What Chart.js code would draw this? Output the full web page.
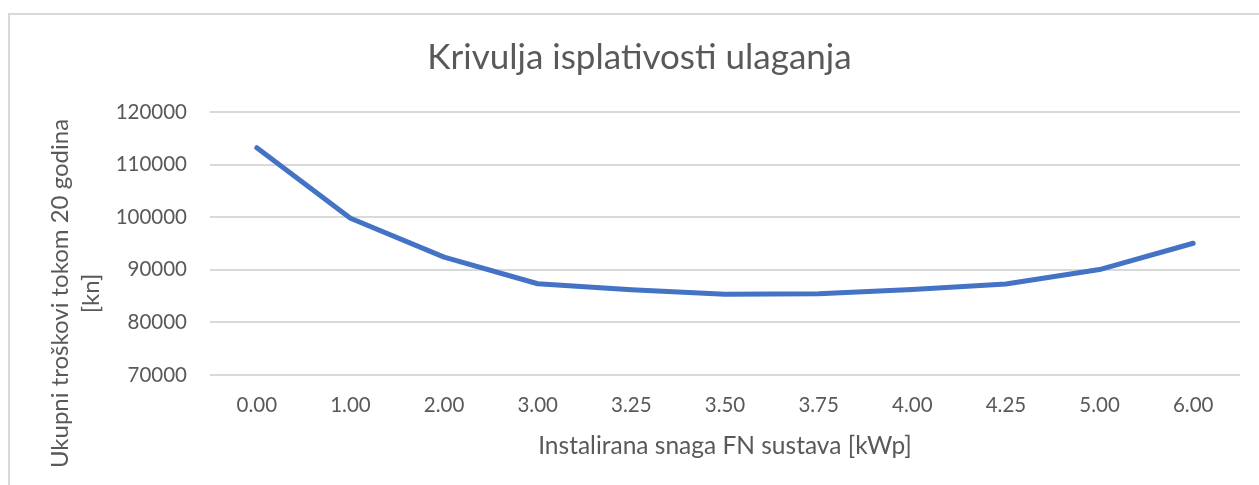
<!DOCTYPE html>
<html>
<head>
<meta charset="utf-8">
<script src="https://cdn.jsdelivr.net/npm/chart.js@4/dist/chart.umd.min.js"></script>
<style>
    html, body { margin: 0; padding: 0; background: #fff; }
    #wrap { width: 1259px; height: 485px; position: relative; }
</style>
</head>
<body>
<div id="wrap"><canvas id="isplativostChart" width="1259" height="485"></canvas></div>
<script>
const snaga = ['0.00', '1.00', '2.00', '3.00', '3.25', '3.50', '3.75', '4.00', '4.25', '5.00', '6.00'];
const troskovi = [113200, 99800, 92400, 87350, 86200, 85350, 85450, 86250, 87300, 90050, 95050];
const yMin = 70000;
const yMax = 120000;
const yStep = 10000;

const naslov = 'Krivulja isplativosti ulaganja';
const naslovX = 'Instalirana snaga FN sustava [kWp]';
const naslovY = ['Ukupni troškovi tokom 20 godina', '[kn]'];

const sivaTekst = '#595959';
const sivaMreza = '#d9d9d9';
const font = 'Lato';

// okvir grafikona (lijevo i gore, ostatak je odrezan)
const okvir = {
    id: 'okvir',
    beforeDraw(chart) {
        const ctx = chart.ctx;
        ctx.save();
        ctx.fillStyle = sivaMreza;
        ctx.fillRect(8, 13, 2, chart.height);
        ctx.fillRect(8, 13, chart.width, 2);
        ctx.restore();
    }
};

// naslov grafikona - Excel ga centrira na cijeli okvir, ne na podrucje crteza
const glavniNaslov = {
    id: 'glavniNaslov',
    afterDraw(chart) {
        const ctx = chart.ctx;
        ctx.save();
        ctx.fillStyle = sivaTekst;
        ctx.font = '35px ' + font;
        ctx.textAlign = 'center';
        ctx.textBaseline = 'alphabetic';
        ctx.fillText(naslov, (8 + chart.width + 12) / 2, 69);
        ctx.restore();
    }
};

// naslov y osi u dva retka
const yNaslov = {
    id: 'yNaslov',
    afterDraw(chart) {
        const ctx = chart.ctx;
        const area = chart.chartArea;
        const cy = (area.top + area.bottom) / 2 + 50;
        ctx.save();
        ctx.fillStyle = sivaTekst;
        ctx.font = '24px ' + font;
        ctx.textAlign = 'center';
        ctx.textBaseline = 'alphabetic';
        naslovY.forEach((txt, i) => {
            ctx.save();
            ctx.translate(68 + i * 31, cy);
            ctx.rotate(-Math.PI / 2);
            ctx.fillText(txt, 0, 0);
            ctx.restore();
        });
        ctx.restore();
    }
};

const ctx = document.getElementById('isplativostChart').getContext('2d');

new Chart(ctx, {
    type: 'line',
    data: {
        labels: snaga,
        datasets: [{
            label: 'Ukupni troškovi',
            data: troskovi,
            borderColor: '#4472C4',
            backgroundColor: '#4472C4',
            borderWidth: 5,
            borderCapStyle: 'round',
            borderJoinStyle: 'round',
            pointRadius: 0,
            tension: 0,
            fill: false
        }]
    },
    options: {
        responsive: false,
        animation: false,
        devicePixelRatio: 1,
        layout: { padding: { left: 0, right: 19, top: 112, bottom: 0 } },
        plugins: {
            legend: { display: false },
            tooltip: { enabled: false },
            title: { display: false }
        },
        scales: {
            x: {
                offset: true,
                grid: { display: false, drawTicks: false },
                border: { display: false },
                ticks: {
                    color: sivaTekst,
                    padding: 18,
                    maxRotation: 0,
                    font: { family: font, size: 20.5 }
                },
                title: {
                    display: true,
                    text: naslovX,
                    color: sivaTekst,
                    font: { family: font, size: 24.5, lineHeight: 1.2 },
                    padding: { top: 10, bottom: 24 }
                },
                afterFit(scale) {
                    scale.height = 110;
                }
            },
            y: {
                min: yMin,
                max: yMax,
                grid: { color: sivaMreza, lineWidth: 2, drawTicks: false },
                border: { display: false },
                ticks: {
                    stepSize: yStep,
                    color: sivaTekst,
                    padding: 23,
                    font: { family: font, size: 20.5 },
                    callback: (v) => String(v)
                },
                afterFit(scale) {
                    scale.width = 210;
                }
            }
        }
    },
    plugins: [okvir, glavniNaslov, yNaslov]
});
</script>
</body>
</html>
